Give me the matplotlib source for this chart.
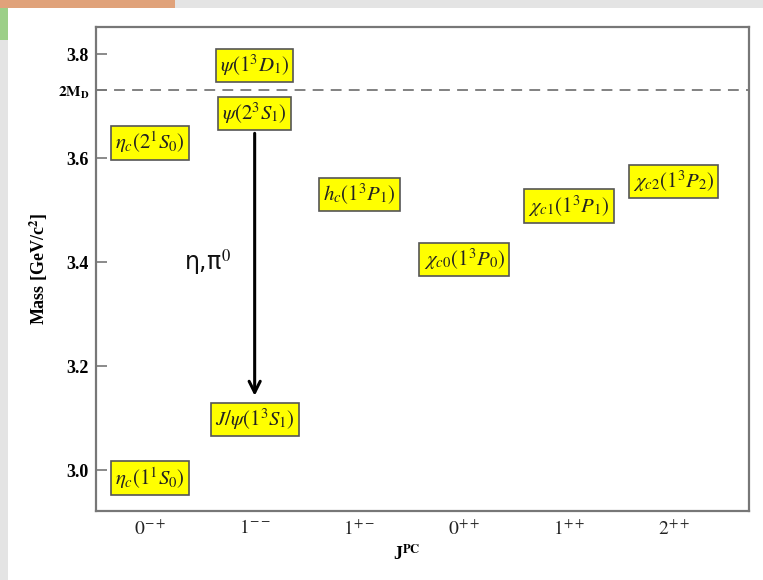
import matplotlib
matplotlib.use("Agg")
import matplotlib.pyplot as plt
from matplotlib.patches import Rectangle

# Charmonium states: J^PC column (1-based) and mass in GeV/c^2
JPC = [r"$0^{-+}$", r"$1^{--}$", r"$1^{+-}$", r"$0^{++}$", r"$1^{++}$", r"$2^{++}$"]
STATE_LABELS = [
    r"$\eta_c(1^1S_0)$",
    r"$\eta_c(2^1S_0)$",
    r"$J/\psi(1^3S_1)$",
    r"$\psi(2^3S_1)$",
    r"$\psi(1^3D_1)$",
    r"$h_c(1^3P_1)$",
    r"$\chi_{c0}(1^3P_0)$",
    r"$\chi_{c1}(1^3P_1)$",
    r"$\chi_{c2}(1^3P_2)$",
]
STATE_COL = [1, 1, 2, 2, 2, 3, 4, 5, 6]
STATE_MASS = [2.985, 3.630, 3.098, 3.686, 3.778, 3.530, 3.405, 3.508, 3.555]
TWO_MD = 3.730
TRANSITION = (3.686, 3.098)  # psi(2S) -> J/psi

plt.rcParams["mathtext.fontset"] = "stix"
plt.rcParams["font.family"] = ["Liberation Serif", "DejaVu Serif"]

fig = plt.figure(figsize=(7.63, 5.80), dpi=100)
fig.patch.set_facecolor("#e4e4e4")

# white page area plus a bit of the window behind it
fig.add_artist(Rectangle((8 / 763, 0), 1, 1 - 8 / 580, transform=fig.transFigure,
                         facecolor="white", edgecolor="none", zorder=0))
fig.add_artist(Rectangle((0, 1 - 8 / 580), 175 / 763, 8 / 580, transform=fig.transFigure,
                         facecolor="#e0a27a", edgecolor="none", zorder=0))
fig.add_artist(Rectangle((0, 1 - 40 / 580), 8 / 763, 32 / 580, transform=fig.transFigure,
                         facecolor="#9ccf88", edgecolor="none", zorder=0))

ax = fig.add_axes([96 / 763, 1 - 511 / 580, 653 / 763, 484 / 580])
ax.set_facecolor("white")
ax.set_xlim(0.485, 6.72)
ax.set_ylim(2.922, 3.852)

for s in ax.spines.values():
    s.set_color("#777777")
    s.set_linewidth(1.6)

ax.set_yticks([3.0, 3.2, 3.4, 3.6, 3.8, TWO_MD])
ax.set_yticklabels(["3.0", "3.2", "3.4", "3.6", "3.8", r"$\mathbf{2M_D}$"])
for lbl in ax.get_yticklabels():
    lbl.set_fontweight("bold")
    lbl.set_fontsize(13)
ax.get_yticklabels()[-1].set_fontsize(11)
ax.tick_params(axis="y", direction="in", length=8, width=1.2, color="#777777", pad=5)

ax.set_xticks(range(1, len(JPC) + 1))
ax.set_xticklabels(JPC, fontsize=14, color="#222222")
ax.tick_params(axis="x", length=0, pad=6)

ax.set_ylabel(r"Mass [GeV/c$^\mathbf{2}$]", fontsize=13, fontweight="bold")
ax.yaxis.set_label_coords(-46 / 653, 0.5)
ax.set_xlabel(r"J$^\mathbf{PC}$", fontsize=13, fontweight="bold")
ax.xaxis.set_label_coords((407 - 96) / 653, -33 / 484)

ax.axhline(TWO_MD, color="#777777", lw=1.3, ls=(0, (6, 4)), zorder=1)

for lab, col, m in zip(STATE_LABELS, STATE_COL, STATE_MASS):
    ax.text(col, m, lab, ha="center", va="center", fontsize=15, color="#222222",
            zorder=4,
            bbox=dict(boxstyle="square,pad=0.2", facecolor="#ffff00",
                      edgecolor="#555555", linewidth=1.2))

ax.annotate("", xy=(2, TRANSITION[1] + 0.040), xytext=(2, TRANSITION[0] - 0.033),
            arrowprops=dict(arrowstyle="->,head_width=0.4,head_length=0.8",
                            color="black", lw=2.2), zorder=3)
ax.text(1.55, 3.40, r"η,π$^0$", ha="center", va="center", fontsize=17,
        family=["DejaVu Sans"], color="#111111")

fig.savefig("out.png", dpi=100, facecolor=fig.get_facecolor())
